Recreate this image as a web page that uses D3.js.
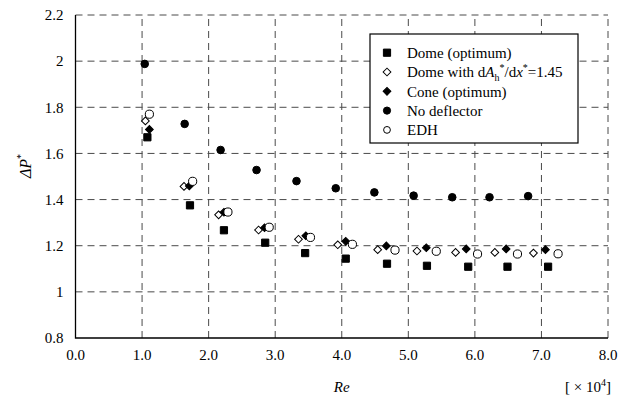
<!DOCTYPE html>
<html>
<head>
<meta charset="utf-8">
<script src="https://cdn.jsdelivr.net/npm/d3@7"></script>
<style>
  html, body { margin: 0; padding: 0; background: #fff; }
  svg { display: block; }
  svg text { font-family: "Times New Roman", Times, "Liberation Serif", "Noto Serif", "DejaVu Serif", serif; }
</style>
</head>
<body>
<svg id="chart" width="627" height="403"></svg>
<script>
// Reynolds number (x 10^4) and dimensionless pressure drop for each configuration
const reNoDeflector = [1.04, 1.64, 2.18, 2.72, 3.32, 3.91, 4.49, 5.08, 5.66, 6.22, 6.80];
const dpNoDeflector = [1.988, 1.728, 1.615, 1.528, 1.480, 1.449, 1.431, 1.417, 1.410, 1.410, 1.415];

const reDomeOpt = [1.08, 1.72, 2.23, 2.85, 3.45, 4.06, 4.68, 5.28, 5.90, 6.49, 7.10];
const dpDomeOpt = [1.670, 1.375, 1.267, 1.213, 1.168, 1.144, 1.122, 1.113, 1.109, 1.109, 1.109];

const reDomeSlope = [1.05, 1.63, 2.15, 2.75, 3.35, 3.94, 4.54, 5.13, 5.71, 6.30, 6.88];
const dpDomeSlope = [1.741, 1.457, 1.334, 1.268, 1.228, 1.204, 1.183, 1.177, 1.171, 1.171, 1.168];

const reConeOpt = [1.11, 1.71, 2.23, 2.84, 3.46, 4.06, 4.67, 5.27, 5.87, 6.47, 7.06];
const dpConeOpt = [1.704, 1.459, 1.345, 1.278, 1.243, 1.219, 1.199, 1.191, 1.186, 1.186, 1.183];

const reEDH = [1.11, 1.76, 2.29, 2.91, 3.53, 4.16, 4.80, 5.42, 6.04, 6.64, 7.25];
const dpEDH = [1.770, 1.479, 1.346, 1.280, 1.236, 1.206, 1.181, 1.176, 1.164, 1.164, 1.165];

const xTicks = [0, 1, 2, 3, 4, 5, 6, 7, 8];
const yTicks = [0.8, 1.0, 1.2, 1.4, 1.6, 1.8, 2.0, 2.2];

const svg = d3.select("#chart");
const plotLeft = 75.5, plotRight = 608, plotTop = 15, plotBottom = 338;

const x = d3.scaleLinear().domain([0, 8]).range([plotLeft, plotRight]);
const y = d3.scaleLinear().domain([0.8, 2.2]).range([plotBottom, plotTop]);

// dashed grid
const grid = svg.append("g").attr("stroke", "#4a4a4a").attr("stroke-width", 1)
  .attr("stroke-dasharray", "7,5").attr("fill", "none");
xTicks.filter(t => t > 0).forEach(t => {
  grid.append("line").attr("x1", x(t)).attr("x2", x(t)).attr("y1", y(0.8)).attr("y2", y(2.2));
});
yTicks.filter(t => t > 0.8).forEach(t => {
  grid.append("line").attr("x1", x(0)).attr("x2", x(8)).attr("y1", y(t)).attr("y2", y(t));
});

// solid left and bottom axes
svg.append("path")
  .attr("d", `M${x(0)},${y(2.2)}V${y(0.8)}H${x(8)}`)
  .attr("fill", "none").attr("stroke", "#000").attr("stroke-width", 1.3);

// tick labels
const fmtY = d => (Math.abs(d - Math.round(d)) < 1e-9) ? String(Math.round(d)) : d.toFixed(1);
svg.append("g").selectAll("text").data(yTicks).join("text")
  .attr("x", x(0) - 12).attr("y", d => y(d)).attr("dy", "0.35em")
  .attr("text-anchor", "end").attr("font-size", 15).text(fmtY);
svg.append("g").selectAll("text").data(xTicks).join("text")
  .attr("x", d => x(d)).attr("y", 360)
  .attr("text-anchor", "middle").attr("font-size", 15).text(d => d.toFixed(1));

// axis titles
svg.append("text").attr("x", x(4)).attr("y", 392).attr("text-anchor", "middle")
  .attr("font-size", 15).attr("font-style", "italic").text("Re");
const unit = svg.append("text").attr("x", 611).attr("y", 392)
  .attr("text-anchor", "end").attr("font-size", 15);
unit.append("tspan").text("[ × 10");
unit.append("tspan").attr("font-size", 10).attr("dy", -6).text("4");
unit.append("tspan").attr("dy", 6).text("]");

const yTitle = svg.append("text").attr("transform", "translate(31,166) rotate(-90)")
  .attr("text-anchor", "middle").attr("font-size", 16).attr("font-style", "italic");
yTitle.append("tspan").text("ΔP");
yTitle.append("tspan").attr("font-size", 10).attr("dy", -7).attr("font-style", "normal").text("*");

// marker shapes
const sq = d3.symbol(d3.symbolSquare, 52)();
const dia = d3.symbol(d3.symbolSquare, 30)();
const series = [
  { name: "domeOpt", re: reDomeOpt, dp: dpDomeOpt, path: sq, rot: 0, fill: "#000" },
  { name: "domeSlope", re: reDomeSlope, dp: dpDomeSlope, path: dia, rot: 45, fill: "#fff" },
  { name: "coneOpt", re: reConeOpt, dp: dpConeOpt, path: dia, rot: 45, fill: "#000" },
  { name: "noDeflector", re: reNoDeflector, dp: dpNoDeflector, circle: 3.8, fill: "#000" },
  { name: "edh", re: reEDH, dp: dpEDH, circle: 4.1, fill: "#fff" }
];

const marks = svg.append("g");
series.forEach(s => {
  const pts = s.re.map((r, i) => [r, s.dp[i]]);
  const g = marks.append("g").attr("class", s.name);
  if (s.circle) {
    g.selectAll("circle").data(pts).join("circle")
      .attr("cx", d => x(d[0])).attr("cy", d => y(d[1])).attr("r", s.circle)
      .attr("fill", s.fill).attr("stroke", "#000").attr("stroke-width", 1);
  } else {
    g.selectAll("path").data(pts).join("path")
      .attr("d", s.path)
      .attr("transform", d => `translate(${x(d[0])},${y(d[1])}) rotate(${s.rot})`)
      .attr("fill", s.fill).attr("stroke", "#000").attr("stroke-width", 1);
  }
});

// legend
const lg = svg.append("g");
lg.append("rect").attr("x", 370).attr("y", 34).attr("width", 208).attr("height", 109)
  .attr("fill", "#fff").attr("stroke", "#000").attr("stroke-width", 1.2);
const rowY = i => 52.7 + i * 19.3;
const mx = 387, tx = 407;
series.forEach((s, i) => {
  if (s.circle) {
    lg.append("circle").attr("cx", mx).attr("cy", rowY(i)).attr("r", s.name === "edh" ? 3.4 : 3.6)
      .attr("fill", s.fill).attr("stroke", "#000");
  } else {
    lg.append("path").attr("d", s.path)
      .attr("transform", `translate(${mx},${rowY(i)}) rotate(${s.rot})`)
      .attr("fill", s.fill).attr("stroke", "#000");
  }
});
const legendText = (i) => lg.append("text")
  .attr("x", tx).attr("y", rowY(i)).attr("dy", "0.35em").attr("font-size", 15);
legendText(0).text("Dome (optimum)");
const t1 = legendText(1);
t1.append("tspan").text("Dome with d");
t1.append("tspan").attr("font-style", "italic").text("A");
t1.append("tspan").attr("font-size", 10).attr("dy", 4).text("h");
t1.append("tspan").attr("font-size", 10).attr("dy", -10).text("*");
t1.append("tspan").attr("dy", 6).text("/d");
t1.append("tspan").attr("font-style", "italic").text("x");
t1.append("tspan").attr("font-size", 10).attr("dy", -6).text("*");
t1.append("tspan").attr("dy", 6).text("=1.45");
legendText(2).text("Cone (optimum)");
legendText(3).text("No deflector");
legendText(4).text("EDH");
</script>
</body>
</html>
